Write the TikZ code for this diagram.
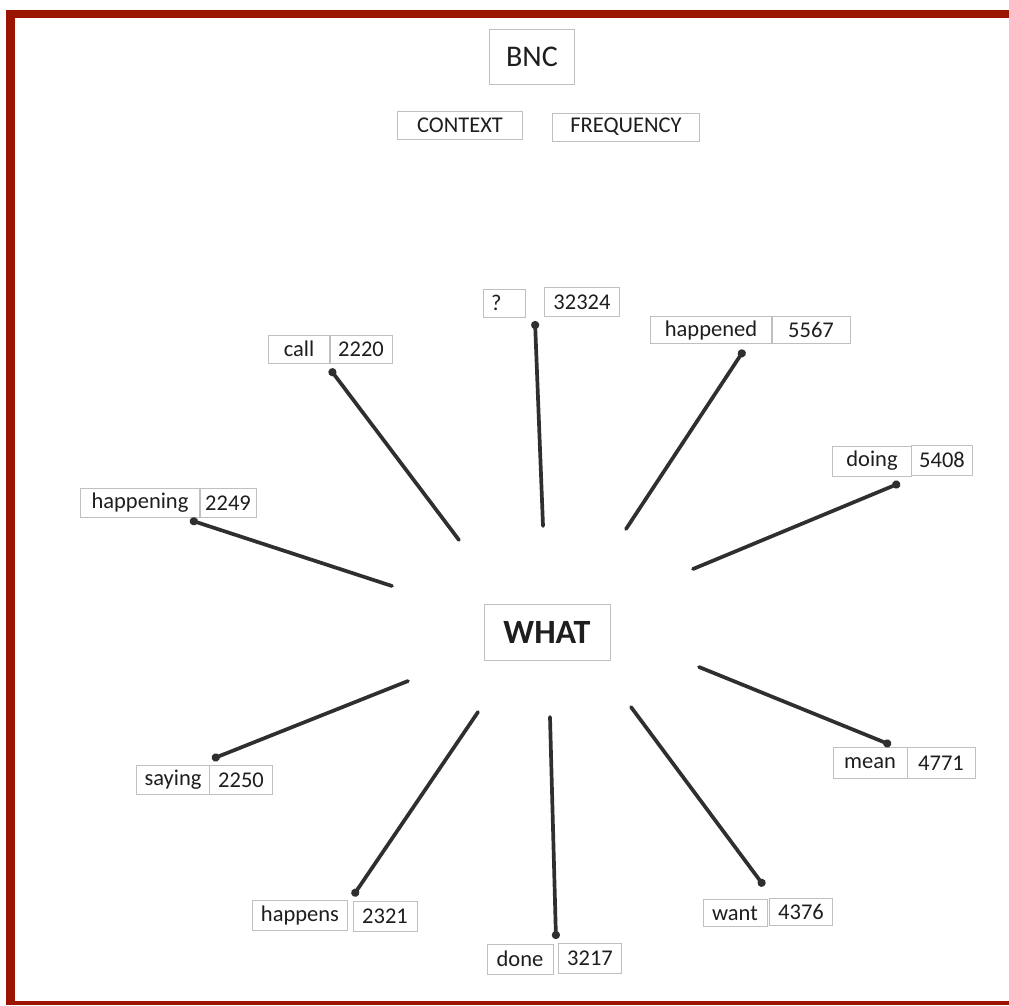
\documentclass[tikz,border=0pt]{standalone}
\usepackage{fontspec}
\setmainfont{Carlito}
\usetikzlibrary{arrows.meta}
\definecolor{frame}{HTML}{9B1400}
\definecolor{ink}{HTML}{2F2F2F}
\definecolor{txt}{HTML}{1E1E1E}
\tikzset{
  slip/.style={draw=gray!50, line width=0.7pt, inner sep=0pt, anchor=center,
    text=txt, font=\fontsize{22.5}{26}\selectfont},
  stroke/.style={draw=ink, line width=3.7pt, line cap=round, -{Circle[length=8pt]}}
}
\begin{document}
\begin{tikzpicture}[x=1pt,y=-1pt]
\useasboundingbox (0,0) rectangle (1009,1005);
\fill[white] (0,0) rectangle (1009,1005);
% frame
\fill[frame] (6,10) rectangle (1009,18);
\fill[frame] (6,10) rectangle (15,1005);
\fill[frame] (6,1001) rectangle (1009,1005);
% title slips
\node[slip, minimum width=85pt, minimum height=55pt, font=\fontsize{30}{34}\selectfont] (bnc) at (532,57) {BNC};
\node[slip, minimum width=125pt, minimum height=28pt] (context) at (460,125) {CONTEXT};
\node[slip, minimum width=147pt, minimum height=28pt] (freq) at (626,127) {FREQUENCY};
% centre
\node[slip, minimum width=126pt, minimum height=56pt, font=\fontsize{34}{38}\selectfont\bfseries] (what) at (547,632) {WHAT};
% word / number slips
\node[slip, minimum width=42pt, minimum height=28pt, text width=26pt, align=left] (qw) at (504,303) {?};
\node[slip, minimum width=75pt, minimum height=29pt] (qn) at (582,302) {32324};
\node[slip, minimum width=121pt, minimum height=27pt] (hdw) at (711,330) {happened};
\node[slip, minimum width=78pt, minimum height=27pt] (hdn) at (811,330) {5567};
\node[slip, minimum width=61pt, minimum height=28pt] (callw) at (299,349) {call};
\node[slip, minimum width=62pt, minimum height=28pt] (calln) at (361,349) {2220};
\node[slip, minimum width=120pt, minimum height=29pt] (hgw) at (140,503) {happening};
\node[slip, minimum width=57pt, minimum height=29pt] (hgn) at (228,503) {2249};
\node[slip, minimum width=79pt, minimum height=30pt] (doingw) at (872,461) {doing};
\node[slip, minimum width=61pt, minimum height=30pt] (doingn) at (942,460) {5408};
\node[slip, minimum width=73pt, minimum height=29pt] (sayw) at (173,780) {saying};
\node[slip, minimum width=63pt, minimum height=29pt] (sayn) at (241,780) {2250};
\node[slip, minimum width=74pt, minimum height=31pt] (meanw) at (870,763) {mean};
\node[slip, minimum width=68pt, minimum height=31pt] (meann) at (941,763) {4771};
\node[slip, minimum width=95pt, minimum height=30pt] (hsw) at (300,915) {happens};
\node[slip, minimum width=64pt, minimum height=30pt] (hsn) at (385,916) {2321};
\node[slip, minimum width=64pt, minimum height=27pt] (wantw) at (735,913) {want};
\node[slip, minimum width=63pt, minimum height=27pt] (wantn) at (801,912) {4376};
\node[slip, minimum width=66pt, minimum height=30pt] (donew) at (520,959) {done};
\node[slip, minimum width=63pt, minimum height=30pt] (donen) at (590,958) {3217};
% connector ends
\coordinate (qa) at (543,526);   \coordinate (qb) at (535,321);
\coordinate (hda) at (626,529);  \coordinate (hdb) at (744,350);
\coordinate (ca) at (459,540);   \coordinate (cb) at (330,369);
\coordinate (hga) at (392,586);  \coordinate (hgb) at (190,520);
\coordinate (da) at (693,569);   \coordinate (db) at (900,483);
\coordinate (sa) at (408,681);   \coordinate (sb) at (212,759);
\coordinate (ma) at (699,667);   \coordinate (mb) at (891,745);
\coordinate (hsa) at (478,712);  \coordinate (hsb) at (353,896);
\coordinate (dna) at (550,717);  \coordinate (dnb) at (556,939);
\coordinate (wa) at (631,707);   \coordinate (wb) at (764,886);
% connectors
\draw[stroke] (qa) -- (qb);
\draw[stroke] (hda) -- (hdb);
\draw[stroke] (ca) -- (cb);
\draw[stroke] (hga) -- (hgb);
\draw[stroke] (da) -- (db);
\draw[stroke] (sa) -- (sb);
\draw[stroke] (ma) -- (mb);
\draw[stroke] (hsa) -- (hsb);
\draw[stroke] (dna) -- (dnb);
\draw[stroke] (wa) -- (wb);
\end{tikzpicture}
\end{document}
